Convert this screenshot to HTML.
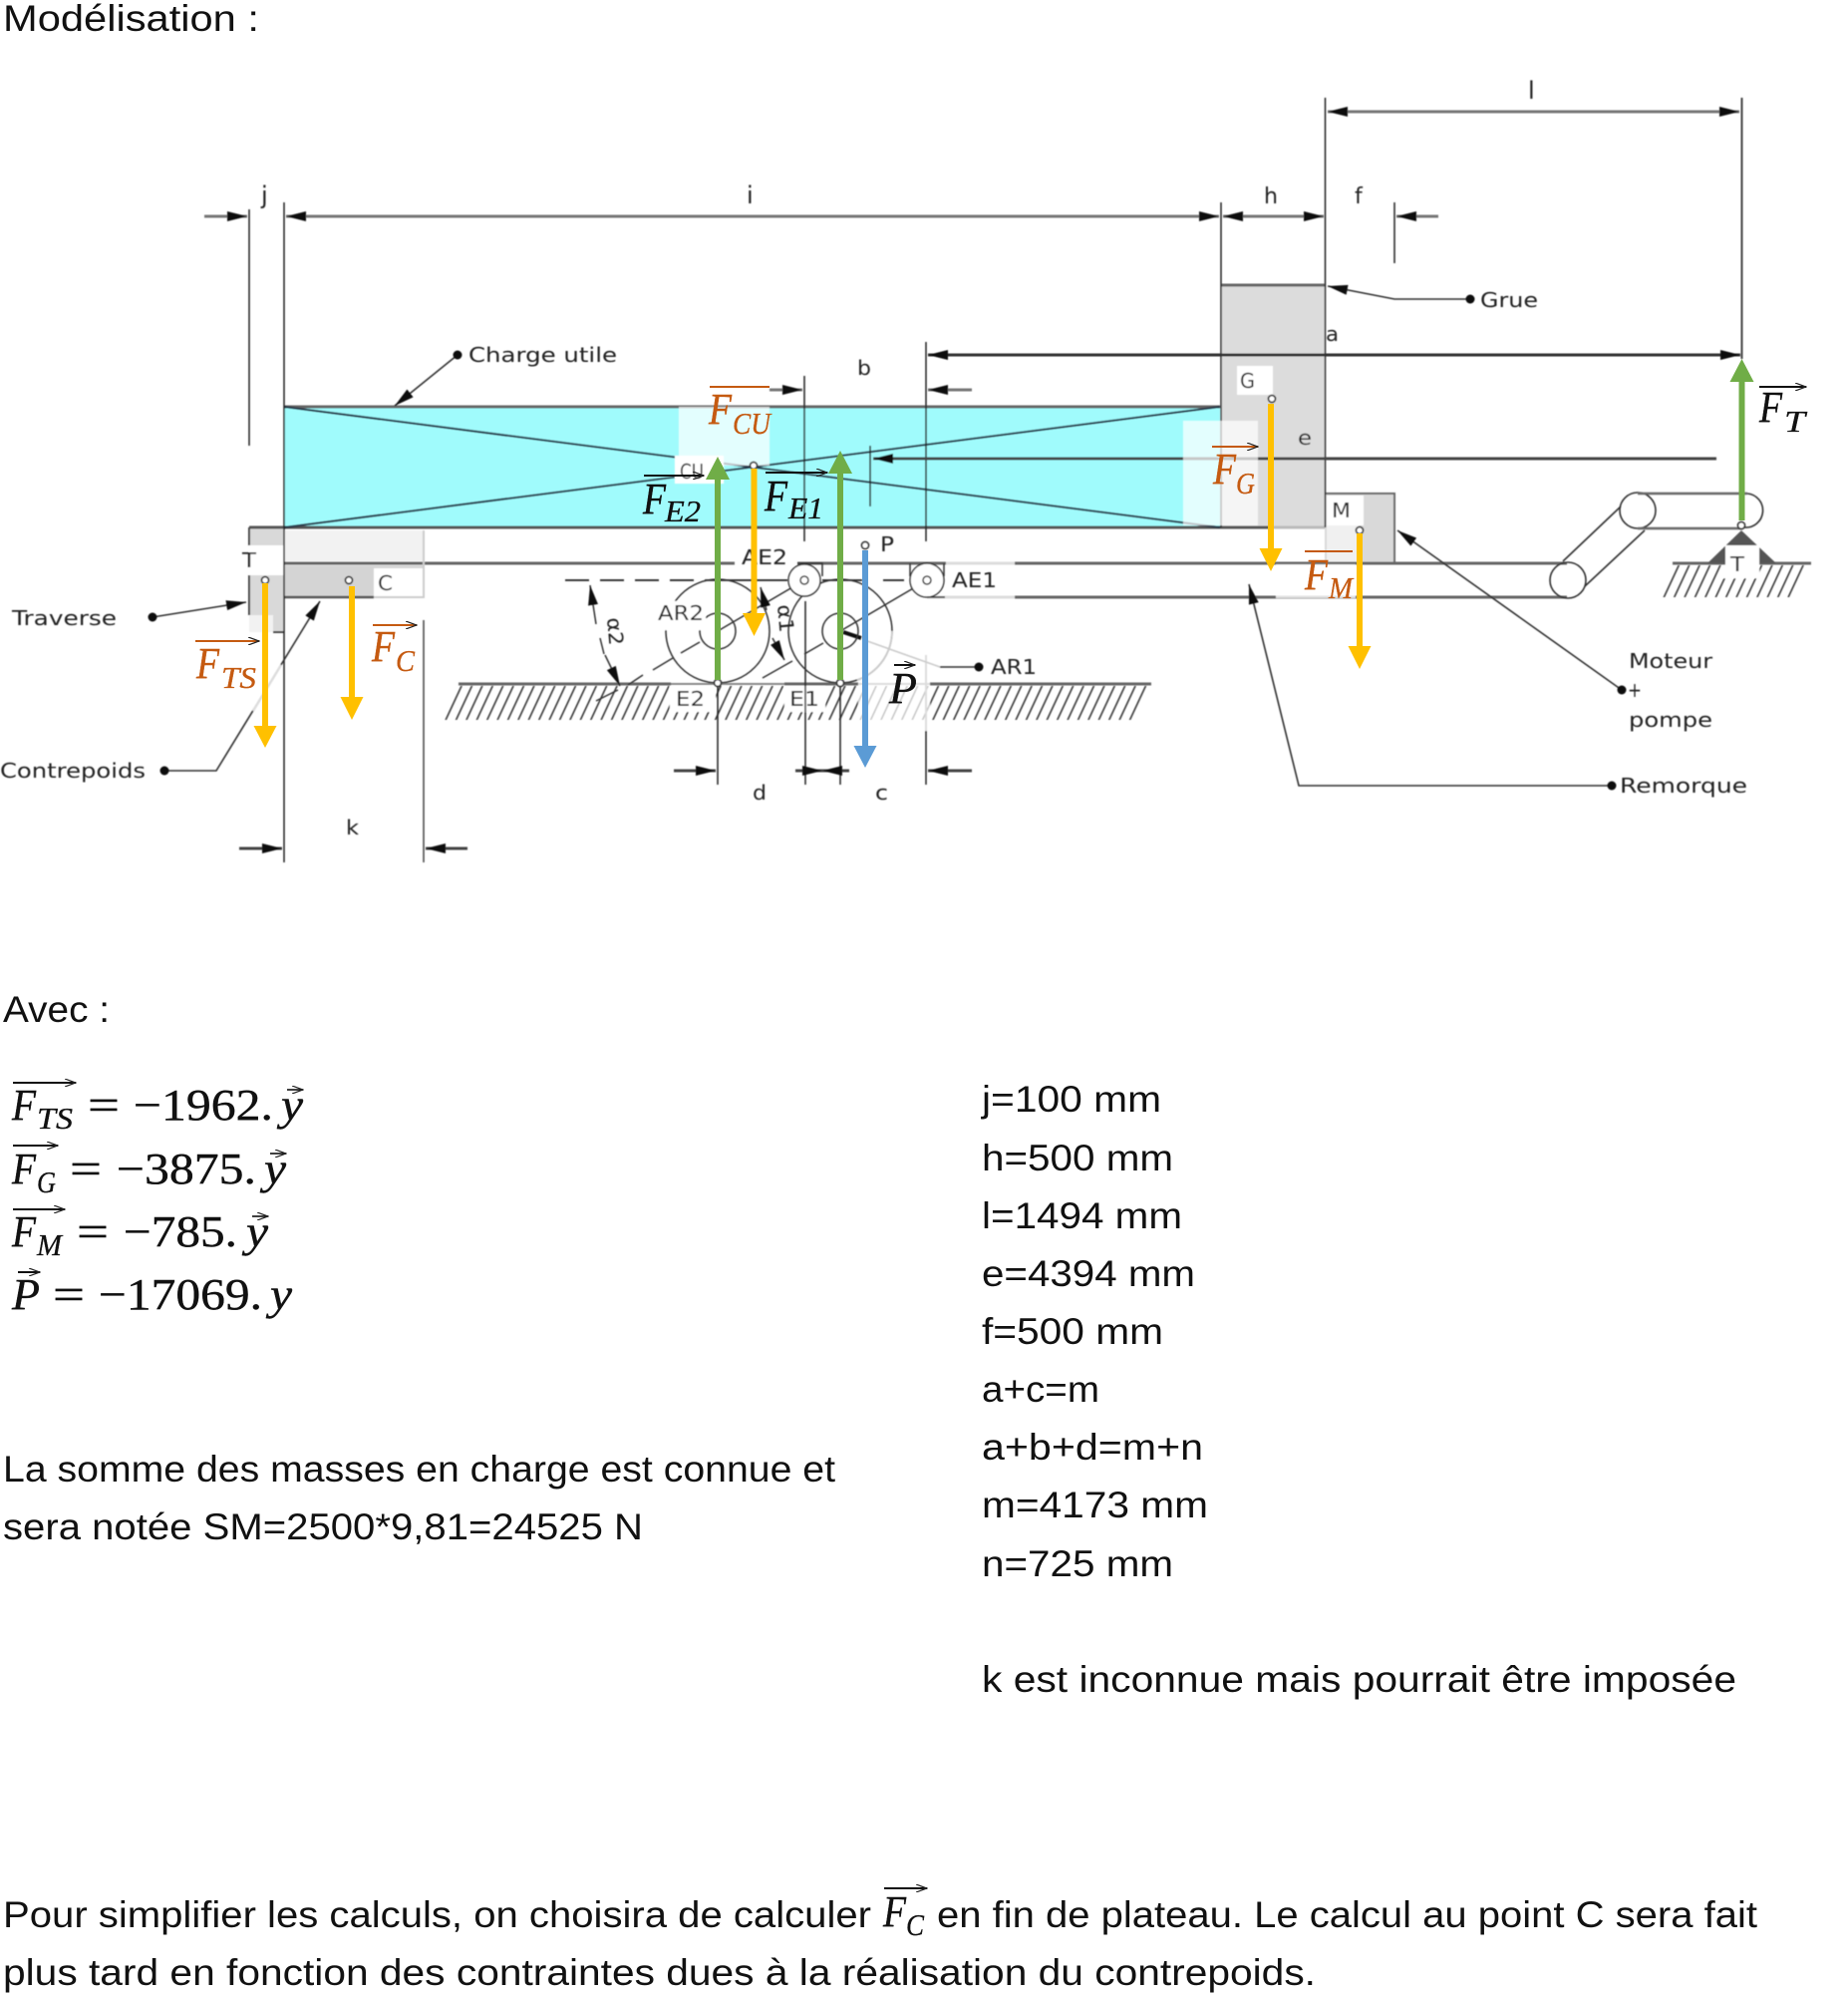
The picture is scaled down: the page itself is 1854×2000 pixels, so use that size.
<!DOCTYPE html>
<html><head><meta charset="utf-8"><title>Modélisation</title>
<style>
html,body{margin:0;padding:0;background:#fff;width:1854px;height:2000px;overflow:hidden}
svg{display:block}
.t{font-family:"Liberation Sans",sans-serif;font-size:37px;fill:#111}
.d{font-family:"DejaVu Sans","Liberation Sans",sans-serif;font-size:20px;fill:#222}
.m{font-family:"Liberation Serif",serif;font-size:44px;fill:#111;stroke:#111;stroke-width:.4}
.mi{font-family:"Liberation Serif",serif;font-style:italic;font-size:44px;fill:#111;stroke:#111;stroke-width:.4}
.ms{font-family:"Liberation Serif",serif;font-style:italic;font-size:31px;fill:#111;stroke:#111;stroke-width:.3}
.o{fill:#C55A11;stroke:#C55A11}
</style></head><body>
<svg width="1854" height="2000" viewBox="0 0 1854 2000" xmlns="http://www.w3.org/2000/svg">
<defs>
<marker id="a" markerUnits="userSpaceOnUse" markerWidth="22" markerHeight="10" refX="20" refY="5" orient="auto-start-reverse"><path d="M0 0L20 5L0 10z" fill="#111"/></marker>
<marker id="v" markerUnits="userSpaceOnUse" markerWidth="12" markerHeight="8" refX="11" refY="4" orient="auto-start-reverse"><path d="M0 0L11 4L0 8" fill="none" stroke="#222" stroke-width="1.2"/></marker>
<pattern id="h" patternUnits="userSpaceOnUse" width="10.4" height="36" patternTransform="skewX(-25)"><rect x="3" width="1.7" height="36" fill="#333"/></pattern>
<filter id="b"><feGaussianBlur stdDeviation="0.4"/></filter>
</defs>

<rect width="1854" height="2000" fill="#fff"/>

<g filter="url(#b)">
<!-- fills -->
<rect x="285" y="408" width="939" height="121" fill="#A0FBFC"/>
<rect x="1225" y="286" width="104" height="243" fill="#DCDCDC"/>
<rect x="1329" y="495" width="70" height="70" fill="#D9D9D9"/>
<rect x="250" y="529" width="35" height="105" fill="#D9D9D9"/>
<rect x="285" y="532" width="140" height="31" fill="#F2F2F2"/>
<rect x="285" y="567" width="140" height="32" fill="#D4D4D4"/>
<rect x="375" y="570" width="50" height="28" fill="#fff"/>
<rect x="250" y="547" width="35" height="30" fill="#fff"/>
<rect x="250" y="617" width="24" height="17" fill="#F2F2F2"/>
<rect x="1241" y="367" width="36" height="29" fill="#fff"/>
<rect x="1331" y="497" width="37" height="30" fill="#fff"/>
<rect x="1331" y="527" width="33" height="38" fill="#F0F0F0"/>

<!-- main structural lines -->
<g stroke="#666" fill="none">
<path d="M285 408H1224" stroke-width="3"/>
<path d="M250 529H1277" stroke-width="3" stroke="#555"/>
<path d="M1277 529H1329" stroke-width="3" stroke="#bbb"/>
<path d="M250 529V547M250 577V617M274 634H285" stroke-width="2" stroke="#444"/>
<path d="M285 565H737M800 565H949M1018 565H1572" stroke-width="3"/>
<path d="M949 565H1018M930 599H1018" stroke-width="3" stroke="#ddd"/>
<path d="M425 532V599H375" stroke-width="2" stroke="#ccc"/>
<path d="M285 599H375" stroke-width="2.5" stroke="#555"/>
<path d="M1018 599H1572" stroke-width="3"/>
<path d="M1225 286H1329" stroke-width="3"/>
<path d="M1329 495H1399V565" stroke-width="2"/>
<path d="M460 686H673M787 686H861M933 686H1155" stroke-width="3"/>
<path d="M673 686H787" stroke-width="2" stroke="#888"/>
<path d="M861 686H933" stroke-width="2" stroke="#ddd"/>
<path d="M1678 565H1817" stroke-width="3"/>
</g>
<!-- cross in charge -->
<path d="M285 408L1224 529M285 529L1224 408" stroke="#234" stroke-width="2" fill="none"/>

<!-- hatches -->
<polygon points="460,688 1155,688 1138,722 443,722" fill="url(#h)"/>
<polygon points="1678,567 1817,567 1803,599 1667,599" fill="url(#h)"/>
<rect x="672" y="688" width="46" height="26" fill="#fff"/>
<rect x="787" y="688" width="41" height="26" fill="#fff"/>
<rect x="861" y="687" width="72" height="36" fill="#fff" fill-opacity=".72"/>
<rect x="1728" y="567" width="37" height="13" fill="#fff"/>

<!-- verticals -->
<g stroke="#222" stroke-width="1.5" fill="none">
<path d="M250 210V447"/>
<path d="M285 203V865"/>
<path d="M425 622V865" stroke="#444"/>
<path d="M807 377V543M808 603V787"/>
<path d="M929 343V543M929 733V787"/>
<path d="M873 447V508"/>
<path d="M1225 203V529"/>
<path d="M1329.5 98V529"/>
<path d="M1399 203V264"/>
<path d="M1747.5 98V360" stroke="#444" stroke-width="2"/>
<path d="M720 685V787M843 685V787"/>
</g>
<path d="M929 657V733" stroke="#ddd" stroke-width="2"/>

<!-- dimension lines -->
<g stroke="#777" stroke-width="3" fill="none">
<path d="M205 217H248" marker-end="url(#a)"/>
<path d="M287 217H1223" marker-start="url(#a)" marker-end="url(#a)"/>
<path d="M1227 217H1328" marker-start="url(#a)" marker-end="url(#a)"/>
<path d="M1443 217H1401" marker-end="url(#a)"/>
<path d="M1332 112H1745" marker-start="url(#a)" marker-end="url(#a)"/>
<path d="M931 356H1746" stroke="#333" marker-start="url(#a)" marker-end="url(#a)"/>
<path d="M772 391H805" marker-end="url(#a)"/>
<path d="M975 391H931" marker-end="url(#a)"/>
<path d="M1722 460H876" stroke="#444" marker-end="url(#a)"/>
<path d="M676 773H718" stroke="#444" marker-end="url(#a)"/>
<path d="M798 773H825" stroke="#444" marker-end="url(#a)"/>
<path d="M852 773H825" stroke="#444" marker-end="url(#a)"/>
<path d="M975 773H931" stroke="#444" marker-end="url(#a)"/>
<path d="M240 851H283" stroke="#444" marker-end="url(#a)"/>
<path d="M469 851H427" stroke="#444" marker-end="url(#a)"/>
</g>

<!-- leaders -->
<g stroke="#333" stroke-width="1.6" fill="none">
<path d="M459 356L396 407" marker-end="url(#a)"/>
<path d="M1475 300H1399L1332 287" marker-end="url(#a)"/>
<path d="M153 619L247 604" marker-end="url(#a)"/>
<path d="M165 773H217L321 603" marker-end="url(#a)"/>
<path d="M1627 692L1402 532" marker-end="url(#a)"/>
<path d="M1617 788H1303L1253 586" marker-end="url(#a)"/>
<path d="M982 669H943"/>
</g>
<path d="M254 713L282 667" stroke="#ddd" stroke-width="2.4"/>
<path d="M943 669L870 643" stroke="#ccc" stroke-width="1.6"/>
<path d="M864 640L846 634" stroke="#111" stroke-width="4"/>
<g fill="#111">
<circle cx="459" cy="356" r="4.5"/><circle cx="1475" cy="300" r="4.5"/><circle cx="153" cy="619" r="4.5"/>
<circle cx="165" cy="773" r="4.5"/><circle cx="1627" cy="692" r="4.5"/><circle cx="1617" cy="788" r="4.5"/><circle cx="982" cy="669" r="4.5"/>
</g>

<!-- wheels and linkage -->
<g stroke="#333" stroke-width="1.5" fill="none">
<path d="M567 582H710" stroke-dasharray="24 11" stroke="#222" stroke-width="1.8"/>
<path d="M710 582H790M825 582H865M886 582H907" stroke="#222" stroke-width="1.8"/>
<circle cx="720" cy="633" r="52"/>
<circle cx="720" cy="633" r="18"/>
<circle cx="843" cy="633" r="52"/>
<circle cx="843" cy="633" r="18"/>
<path d="M720 633L807 582"/>
<path d="M598 703L620 692M630 687L645 677M655 672L675 660M683 655L702 644"/>
<path d="M843 633L930 582"/>
<path d="M765 680L795 663M807 656L826 645"/>
<circle cx="807" cy="582" r="16" fill="#fff"/>
<circle cx="930" cy="582" r="17" fill="#fff"/>
<circle cx="807" cy="582" r="4"/>
<circle cx="930" cy="582" r="4"/>
<path d="M598 626L592 587" marker-end="url(#a)"/>
<path d="M602 640L606 656"/>
<path d="M607 657L622 688" marker-end="url(#a)"/>
<path d="M769 612L763 589" marker-end="url(#a)"/>
<path d="M775 640L787 662" marker-end="url(#a)"/>
<path d="M800 565H825V578M913 565V578M947 565V578"/>
<path d="M930 599H948"/>
</g>
<path d="M895 633A52 52 0 0 1 860 682" stroke="#ccc" stroke-width="1.8" fill="none"/>
<rect x="660" y="603" width="48" height="29" fill="#fff"/>

<!-- trailer rollers -->
<g stroke="#333" stroke-width="1.6" fill="none">
<circle cx="1573" cy="582" r="18"/>
<circle cx="1643" cy="512" r="18"/>
<path d="M1568 563L1626 508M1590 588L1650 532"/>
<path d="M1643 495H1753M1643 530H1748" stroke="#666" stroke-width="2.4"/>
<path d="M1753 495A17 17 0 0 1 1750 529"/>
</g>
<polygon points="1747,532 1713,565 1782,565" fill="#555"/>
<rect x="1731" y="547" width="34" height="20" fill="#fff"/>

<!-- translucent patches -->
<rect x="681" y="408" width="91" height="59" fill="#fff" fill-opacity=".7"/>
<rect x="677" y="457" width="49" height="28" fill="#fff"/>
<rect x="1187" y="422" width="75" height="105" fill="#fff" fill-opacity=".7"/>
<rect x="1280" y="566" width="80" height="34" fill="#fff" fill-opacity=".8"/>
<path d="M1364 527v38" stroke="#ddd"/>

<!-- small point markers -->
<g fill="#fff" stroke="#333" stroke-width="1.7">
<circle cx="266" cy="582" r="3.5"/><circle cx="350" cy="582" r="3.5"/>
<circle cx="756" cy="467" r="3.5"/><circle cx="868" cy="547" r="3.5"/>
<circle cx="1276" cy="400" r="3.5"/><circle cx="1364" cy="532" r="3.5"/>
<circle cx="720" cy="685" r="3.5"/><circle cx="843" cy="685" r="3.5"/>
<circle cx="1747" cy="527" r="3.5"/>
</g>

<!-- labels -->
<text class="d" x="262" y="204" style="font-size:24px">j</text>
<text class="d" x="749" y="204" style="font-size:24px">i</text>
<text class="d" x="1268" y="204" style="font-size:22px" textLength="14" lengthAdjust="spacingAndGlyphs">h</text>
<text class="d" x="1359" y="204" style="font-size:22px">f</text>
<text class="d" x="1533" y="99" style="font-size:24px">l</text>
<text class="d" x="470" y="363" textLength="149" lengthAdjust="spacingAndGlyphs">Charge utile</text>
<text class="d" x="860" y="376" textLength="14" lengthAdjust="spacingAndGlyphs">b</text>
<text class="d" x="1485" y="308" textLength="58" lengthAdjust="spacingAndGlyphs">Grue</text>
<text class="d" x="1330" y="342" textLength="13" lengthAdjust="spacingAndGlyphs">a</text>
<text class="d" x="1302" y="446" textLength="14" lengthAdjust="spacingAndGlyphs">e</text>
<text class="d" x="1244" y="389" textLength="15" lengthAdjust="spacingAndGlyphs">G</text>
<text class="d" x="1336" y="519" textLength="19" lengthAdjust="spacingAndGlyphs">M</text>
<text class="d" x="682" y="480" textLength="24" lengthAdjust="spacingAndGlyphs">CU</text>
<text class="d" x="243" y="569" textLength="14" lengthAdjust="spacingAndGlyphs">T</text>
<text class="d" x="379" y="592" textLength="15" lengthAdjust="spacingAndGlyphs">C</text>
<text class="d" x="12" y="627" textLength="105" lengthAdjust="spacingAndGlyphs">Traverse</text>
<text class="d" x="0" y="780" textLength="146" lengthAdjust="spacingAndGlyphs">Contrepoids</text>
<text class="d" x="347" y="837" textLength="13" lengthAdjust="spacingAndGlyphs">k</text>
<text class="d" x="755" y="802" textLength="14" lengthAdjust="spacingAndGlyphs">d</text>
<text class="d" x="878" y="802" textLength="13" lengthAdjust="spacingAndGlyphs">c</text>
<text class="d" x="744" y="566" textLength="46" lengthAdjust="spacingAndGlyphs">AE2</text>
<text class="d" x="883" y="553" textLength="14" lengthAdjust="spacingAndGlyphs">P</text>
<text class="d" x="955" y="589" textLength="45" lengthAdjust="spacingAndGlyphs">AE1</text>
<text class="d" x="660" y="622" textLength="46" lengthAdjust="spacingAndGlyphs">AR2</text>
<text class="d" x="994" y="676" textLength="46" lengthAdjust="spacingAndGlyphs">AR1</text>
<text class="d" x="678" y="708" textLength="29" lengthAdjust="spacingAndGlyphs">E2</text>
<text class="d" x="792" y="708" textLength="30" lengthAdjust="spacingAndGlyphs">E1</text>
<text class="d" x="1736" y="573" textLength="14" lengthAdjust="spacingAndGlyphs">T</text>
<text class="d" x="1634" y="670" textLength="84" lengthAdjust="spacingAndGlyphs">Moteur</text>
<text class="d" x="1633" y="699" textLength="14" lengthAdjust="spacingAndGlyphs">+</text>
<text class="d" x="1634" y="729" textLength="84" lengthAdjust="spacingAndGlyphs">pompe</text>
<text class="d" x="1625" y="795" textLength="128" lengthAdjust="spacingAndGlyphs">Remorque</text>
<text class="d" transform="translate(609,620) rotate(85)" textLength="28" lengthAdjust="spacingAndGlyphs">α2</text>
<text class="d" transform="translate(780,607) rotate(85)" textLength="28" lengthAdjust="spacingAndGlyphs">α1</text>
</g>

<!-- force arrows -->
<g stroke-width="6" fill="none">
<path d="M720 682V480M843 682V474M1747.5 522V382" stroke="#70AD47"/>
<path d="M756.5 470V616M266 585V729M353 588V700M1275 405V551M1364 535V649" stroke="#FFC000"/>
<path d="M868 552V749" stroke="#5B9BD5"/>
</g>
<g fill="#70AD47">
<polygon points="720,458 708,481 732,481"/>
<polygon points="843,452 831,475 855,475"/>
<polygon points="1747.5,360 1735.5,383 1759.5,383"/>
</g>
<g fill="#FFC000">
<polygon points="756.5,638 745,615 768,615"/>
<polygon points="266,750 254.5,728 277.5,728"/>
<polygon points="353,722 341.5,699 364.5,699"/>
<polygon points="1275,573 1263.5,550 1286.5,550"/>
<polygon points="1364,671 1352.5,648 1375.5,648"/>
</g>
<polygon points="868,770 856.5,748 879.5,748" fill="#5B9BD5"/>

<!-- force labels on diagram -->
<g>
<path d="M712 388H772" stroke="#C55A11" stroke-width="2"/>
<text x="711" y="425" class="mi o" textLength="23" lengthAdjust="spacingAndGlyphs">F</text>
<text x="735" y="435" class="ms o" textLength="38" lengthAdjust="spacingAndGlyphs">CU</text>

<path d="M646 477H706" stroke="#111" stroke-width="2" marker-end="url(#v)"/>
<text x="645" y="515" class="mi" textLength="23" lengthAdjust="spacingAndGlyphs">F</text>
<text x="667" y="523" class="ms" textLength="36" lengthAdjust="spacingAndGlyphs">E2</text>

<path d="M768 474H830" stroke="#111" stroke-width="2" marker-end="url(#v)"/>
<text x="767" y="512" class="mi" textLength="23" lengthAdjust="spacingAndGlyphs">F</text>
<text x="791" y="520" class="ms" textLength="35" lengthAdjust="spacingAndGlyphs">E1</text>

<path d="M1216 448H1262" stroke="#C55A11" stroke-width="2" marker-end="url(#v)"/>
<text x="1217" y="485" class="mi o" textLength="23" lengthAdjust="spacingAndGlyphs">F</text>
<text x="1240" y="495" class="ms o" textLength="19" lengthAdjust="spacingAndGlyphs">G</text>

<path d="M1765 388H1812" stroke="#111" stroke-width="2" marker-end="url(#v)"/>
<text x="1765" y="423" class="mi" textLength="23" lengthAdjust="spacingAndGlyphs">F</text>
<text x="1790" y="433" class="ms" textLength="21" lengthAdjust="spacingAndGlyphs">T</text>

<path d="M196 643H260" stroke="#C55A11" stroke-width="2" marker-end="url(#v)"/>
<text x="197" y="680" class="mi o" textLength="23" lengthAdjust="spacingAndGlyphs">F</text>
<text x="222" y="690" class="ms o" textLength="35" lengthAdjust="spacingAndGlyphs">TS</text>

<path d="M374 627H418" stroke="#C55A11" stroke-width="2" marker-end="url(#v)"/>
<text x="373" y="663" class="mi o" textLength="23" lengthAdjust="spacingAndGlyphs">F</text>
<text x="397" y="673" class="ms o" textLength="19" lengthAdjust="spacingAndGlyphs">C</text>

<path d="M1309 553H1357" stroke="#C55A11" stroke-width="2"/>
<text x="1309" y="591" class="mi o" textLength="23" lengthAdjust="spacingAndGlyphs">F</text>
<text x="1333" y="600" class="ms o" textLength="24" lengthAdjust="spacingAndGlyphs">M</text>

<path d="M897 667H918" stroke="#111" stroke-width="2" marker-end="url(#v)"/>
<text x="892" y="705" class="mi" textLength="28" lengthAdjust="spacingAndGlyphs">P</text>
</g>

<!-- body text -->
<text class="t" x="3" y="31" textLength="257" lengthAdjust="spacingAndGlyphs">Modélisation :</text>
<text class="t" x="3" y="1025" textLength="107" lengthAdjust="spacingAndGlyphs">Avec :</text>

<text class="t" x="985" y="1115" textLength="180" lengthAdjust="spacingAndGlyphs">j=100 mm</text>
<text class="t" x="985" y="1174" textLength="192" lengthAdjust="spacingAndGlyphs">h=500 mm</text>
<text class="t" x="985" y="1232" textLength="201" lengthAdjust="spacingAndGlyphs">l=1494 mm</text>
<text class="t" x="985" y="1290" textLength="214" lengthAdjust="spacingAndGlyphs">e=4394 mm</text>
<text class="t" x="985" y="1348" textLength="182" lengthAdjust="spacingAndGlyphs">f=500 mm</text>
<text class="t" x="985" y="1406" textLength="118" lengthAdjust="spacingAndGlyphs">a+c=m</text>
<text class="t" x="985" y="1464" textLength="222" lengthAdjust="spacingAndGlyphs">a+b+d=m+n</text>
<text class="t" x="985" y="1522" textLength="227" lengthAdjust="spacingAndGlyphs">m=4173 mm</text>
<text class="t" x="985" y="1581" textLength="192" lengthAdjust="spacingAndGlyphs">n=725 mm</text>
<text class="t" x="985" y="1697" textLength="757" lengthAdjust="spacingAndGlyphs">k est inconnue mais pourrait être imposée</text>

<text class="t" x="3" y="1486" textLength="835" lengthAdjust="spacingAndGlyphs">La somme des masses en charge est connue et</text>
<text class="t" x="3" y="1544" textLength="642" lengthAdjust="spacingAndGlyphs">sera notée SM=2500*9,81=24525 N</text>

<text class="t" x="3" y="1933" textLength="871" lengthAdjust="spacingAndGlyphs">Pour simplifier les calculs, on choisira de calculer</text>
<path d="M887 1894H930" stroke="#111" stroke-width="2" marker-end="url(#v)"/>
<text x="886" y="1932" class="mi" textLength="23" lengthAdjust="spacingAndGlyphs">F</text>
<text x="909" y="1941" class="ms" textLength="18" lengthAdjust="spacingAndGlyphs">C</text>
<text class="t" x="940" y="1933" textLength="823" lengthAdjust="spacingAndGlyphs">en fin de plateau. Le calcul au point C sera fait</text>
<text class="t" x="3" y="1991" textLength="1317" lengthAdjust="spacingAndGlyphs">plus tard en fonction des contraintes dues à la réalisation du contrepoids.</text>

<!-- equations -->
<g>
<path d="M13 1086H76" stroke="#111" stroke-width="2" marker-end="url(#v)"/>
<text x="12" y="1123" class="mi" textLength="24" lengthAdjust="spacingAndGlyphs">F</text>
<text x="37" y="1132" class="ms" textLength="36" lengthAdjust="spacingAndGlyphs">TS</text>
<text x="88" y="1123" class="m" textLength="32" lengthAdjust="spacingAndGlyphs">=</text>
<text x="134" y="1123" class="m" textLength="140" lengthAdjust="spacingAndGlyphs">−1962.</text>
<path d="M288 1093H304" stroke="#111" stroke-width="1.6" marker-end="url(#v)"/>
<text x="282" y="1123" class="mi" textLength="22" lengthAdjust="spacingAndGlyphs">y</text>

<path d="M13 1149H58" stroke="#111" stroke-width="2" marker-end="url(#v)"/>
<text x="12" y="1187" class="mi" textLength="24" lengthAdjust="spacingAndGlyphs">F</text>
<text x="37" y="1196" class="ms" textLength="19" lengthAdjust="spacingAndGlyphs">G</text>
<text x="70" y="1187" class="m" textLength="32" lengthAdjust="spacingAndGlyphs">=</text>
<text x="117" y="1187" class="m" textLength="140" lengthAdjust="spacingAndGlyphs">−3875.</text>
<path d="M271 1157H287" stroke="#111" stroke-width="1.6" marker-end="url(#v)"/>
<text x="265" y="1187" class="mi" textLength="22" lengthAdjust="spacingAndGlyphs">y</text>

<path d="M13 1213H65" stroke="#111" stroke-width="2" marker-end="url(#v)"/>
<text x="12" y="1250" class="mi" textLength="24" lengthAdjust="spacingAndGlyphs">F</text>
<text x="37" y="1259" class="ms" textLength="25" lengthAdjust="spacingAndGlyphs">M</text>
<text x="77" y="1250" class="m" textLength="32" lengthAdjust="spacingAndGlyphs">=</text>
<text x="124" y="1250" class="m" textLength="114" lengthAdjust="spacingAndGlyphs">−785.</text>
<path d="M253 1220H269" stroke="#111" stroke-width="1.6" marker-end="url(#v)"/>
<text x="247" y="1250" class="mi" textLength="22" lengthAdjust="spacingAndGlyphs">y</text>

<path d="M18 1276H40" stroke="#111" stroke-width="2" marker-end="url(#v)"/>
<text x="12" y="1313" class="mi" textLength="28" lengthAdjust="spacingAndGlyphs">P</text>
<text x="53" y="1313" class="m" textLength="32" lengthAdjust="spacingAndGlyphs">=</text>
<text x="99" y="1313" class="m" textLength="164" lengthAdjust="spacingAndGlyphs">−17069.</text>
<text x="271" y="1313" class="mi" textLength="22" lengthAdjust="spacingAndGlyphs">y</text>
</g>
</svg>
</body></html>
